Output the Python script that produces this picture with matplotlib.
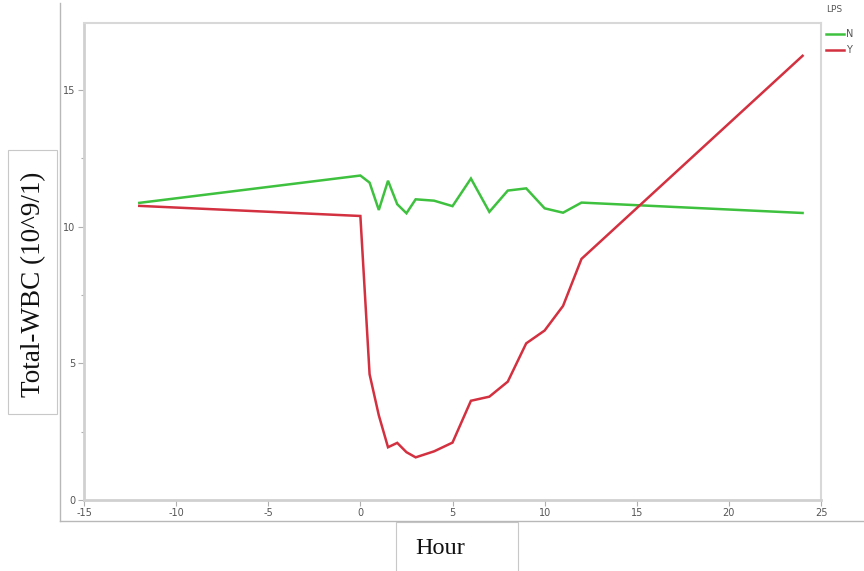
import matplotlib
matplotlib.use("Agg")
import matplotlib.pyplot as plt
from matplotlib.patches import Rectangle
from matplotlib.lines import Line2D

# Data
hours_n = [-12, 0, 0.5, 1, 1.5, 2, 2.5, 3, 4, 5, 6, 7, 8, 9, 10, 11, 12, 24]
wbc_n = [10.87, 11.87, 11.61, 10.61, 11.68, 10.82, 10.49, 11.0, 10.95, 10.75,
         11.76, 10.54, 11.32, 11.4, 10.67, 10.51, 10.88, 10.5]
hours_y = [-12, 0, 0.5, 1, 1.5, 2, 2.5, 3, 4, 5, 6, 7, 8, 9, 10, 11, 12, 24]
wbc_y = [10.76, 10.39, 4.6, 3.1, 1.93, 2.09, 1.75, 1.56, 1.78, 2.1,
         3.63, 3.78, 4.33, 5.73, 6.2, 7.1, 8.82, 16.25]
series_names = ["N", "Y"]
legend_title = "LPS"
x_ticks = [-15, -10, -5, 0, 5, 10, 15, 20, 25]
y_ticks = [0, 5, 10, 15]
y_minor = [2.5, 7.5, 12.5]

GREEN = "#3ec13e"
RED = "#d33040"
W, H = 864, 571

fig = plt.figure(figsize=(8.64, 5.71), dpi=100)

def fx(px):
    return px / W

def fy(py):
    return 1 - py / H

ax = fig.add_axes([fx(84), fy(500), fx(821) - fx(84), fy(23) - fy(500)])
ax.plot(hours_n, wbc_n, color=GREEN, lw=1.8, solid_joinstyle="miter")
ax.plot(hours_y, wbc_y, color=RED, lw=1.8, solid_joinstyle="miter")
ax.set_xlim(-15, 25)
ax.set_ylim(0, 17.45)
ax.set_xticks(x_ticks)
ax.set_xticklabels([str(t) for t in x_ticks])
ax.set_yticks(y_ticks)
ax.set_yticklabels([str(t) for t in y_ticks])
ax.set_yticks(y_minor, minor=True)
ax.tick_params(axis="both", which="major", labelsize=7, colors="#b0b0b0",
               labelcolor="#555555", length=4, width=0.8, pad=2)
ax.tick_params(axis="y", which="minor", length=2.5, width=0.8, colors="#b0b0b0")
for side in ["left", "bottom"]:
    ax.spines[side].set_color("#d0d0d0")
    ax.spines[side].set_linewidth(2.0)
for side in ["top", "right"]:
    ax.spines[side].set_color("#d8d8d8")
    ax.spines[side].set_linewidth(1.5)

# Outer frame lines
fig.add_artist(Line2D([fx(60), fx(60)], [fy(3), fy(521)], color="#b8b8b8", lw=1.0))
fig.add_artist(Line2D([fx(60), 1.0], [fy(521), fy(521)], color="#b8b8b8", lw=1.0))

# Y label box
fig.add_artist(Rectangle((fx(8), fy(414)), fx(57) - fx(8), fy(150) - fy(414),
                         transform=fig.transFigure, fill=False,
                         edgecolor="#c8c8c8", lw=0.8))
fig.text(fx(34), fy(284), "Total-WBC (10^9/1)", rotation=90, ha="center",
         va="center", fontsize=19.5, family="Liberation Serif", color="#111111")

# X label box
fig.add_artist(Rectangle((fx(396), fy(575)), fx(518) - fx(396), fy(522) - fy(575),
                         transform=fig.transFigure, fill=False,
                         edgecolor="#c8c8c8", lw=0.8))
fig.text(fx(440), fy(548), "Hour", ha="center", va="center", fontsize=17.5,
         family="Liberation Serif", color="#111111")

# Legend
fig.text(fx(826), fy(10), legend_title, ha="left", va="center", fontsize=6.5,
         color="#555555")
for i, (name, col) in enumerate(zip(series_names, [GREEN, RED])):
    yy = fy(34 + 16 * i)
    fig.add_artist(Line2D([fx(826), fx(844)], [yy, yy], color=col, lw=1.8))
    fig.text(fx(846), yy, name, ha="left", va="center", fontsize=7,
             color="#555555")

fig.savefig("out.png", dpi=100)
